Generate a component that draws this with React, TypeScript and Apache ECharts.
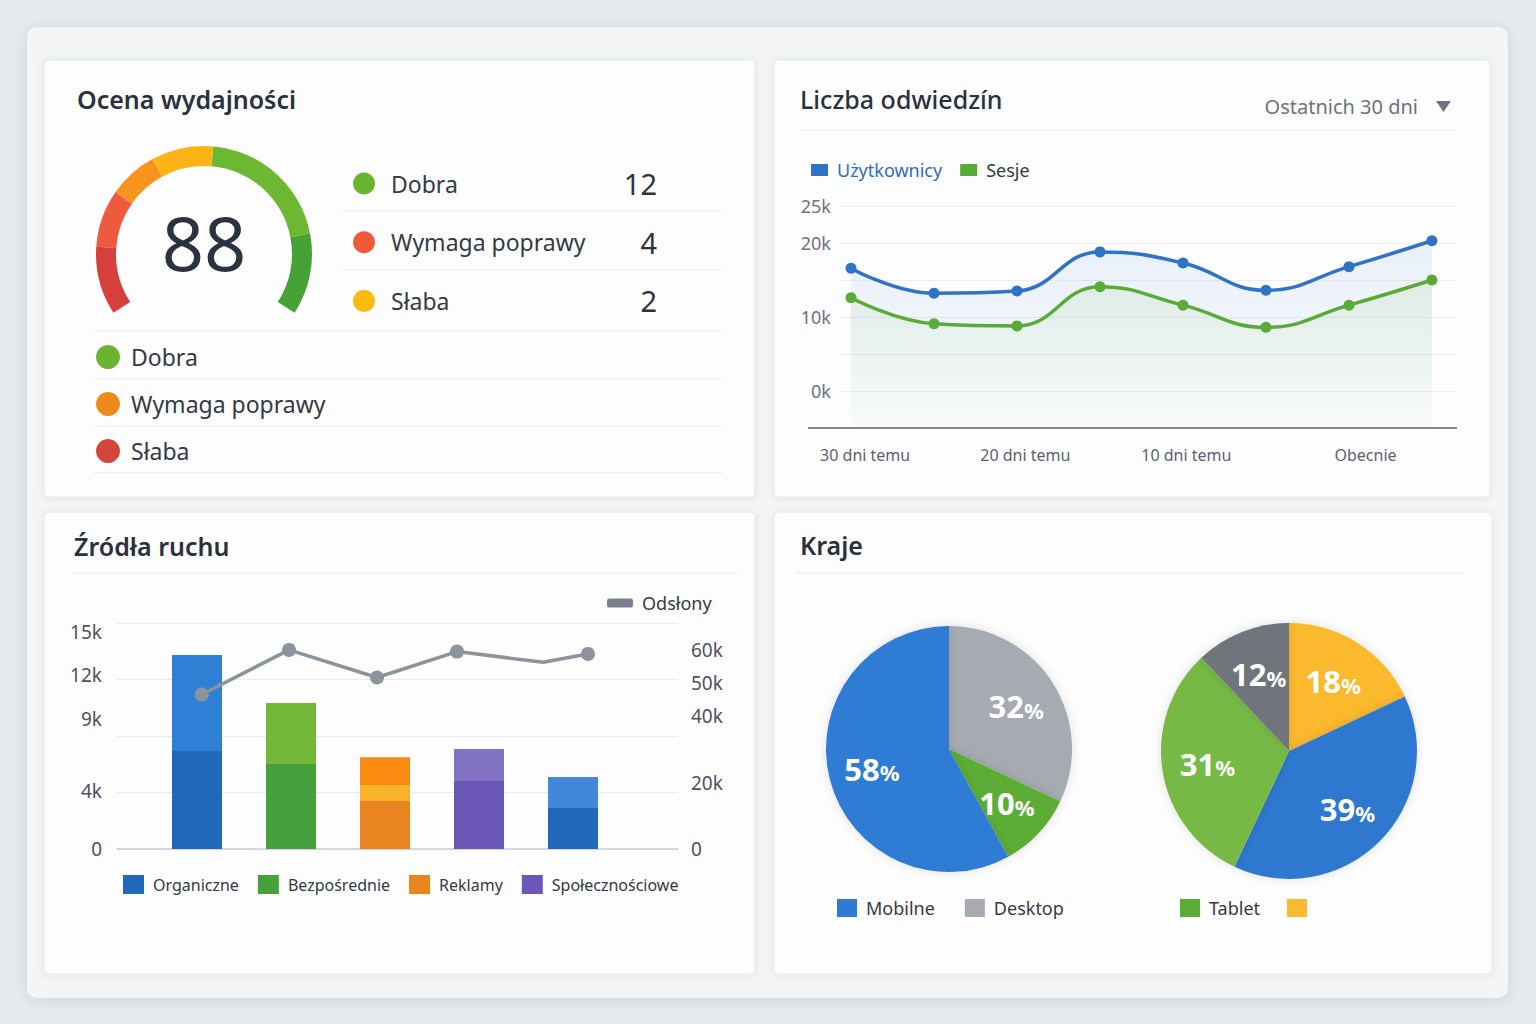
import React, { useEffect, useRef } from "react";
import * as echarts from "echarts";

const FONT = '"Noto Sans", "Open Sans", sans-serif';

// ---------- Card 1: Ocena wydajności ----------
const gaugeScore = 88;
const gaugeBandStops = [0.15, 0.276, 0.384, 0.52, 0.821, 1];
const gaugeBandColors = ["#d6403a", "#ed5a3e", "#f7941d", "#fbb316", "#6cb832", "#48a136"];
const ratingLabels = ["Dobra", "Wymaga poprawy", "Słaba"];
const ratingCounts = [12, 4, 2];
const ratingColors = ["#6ab42f", "#ee5a3c", "#fbbb12"];
const scaleLabels = ["Dobra", "Wymaga poprawy", "Słaba"];
const scaleColors = ["#6ab42f", "#ee8a1c", "#d2463b"];

// ---------- Card 2: Liczba odwiedzín ----------
const visitX = [0, 1, 2, 3, 4, 5, 6, 7];
const visitTickPositions = [0.17, 2.1, 4.04, 6.2];
const visitTickLabels = ["30 dni temu", "20 dni temu", "10 dni temu", "Obecnie"];
const users = [16600, 13200, 13500, 18800, 17300, 13600, 16800, 20300];
const sessions = [12600, 9100, 8800, 14100, 11600, 8600, 11600, 15000];
const visitYTicks = [0, 10000, 20000, 25000];

// ---------- Card 3: Źródła ruchu ----------
const sourceNames = ["Organiczne", "Bezpośrednie", "Reklamy", "Społecznościowe"];
const sourceColors = ["#2168ba", "#46a03b", "#e9851f", "#6a57b8"];
const barCategories = ["Organiczne", "Bezpośrednie", "Reklamy", "Społecznościowe", "Organiczne (mobile)"];
const barSource = [0, 1, 2, 3, 0];
const barBase = [6760, 5870, 3310, 4690, 2830];
const barMiddle = [null, null, 1100, null, null];
const barTop = [6630, 4210, 1930, 2210, 2140];
const barTopColors = ["#2e80d7", "#74b83a", "#fb8b10", "#8373c3", "#4287d8"];
const pageViewX = [1.05, 1.976, 2.91, 3.758, 4.671, 5.148];
const pageViews = [46500, 59900, 51600, 59400, 56200, 58700];
const pageViewMarker = [true, true, true, true, false, true];
const leftTicks = [0, 4000, 9000, 12000, 15000];
const rightTicks = [0, 20000, 40000, 50000, 60000];

// ---------- Card 4: Kraje ----------
const pie1Names = ["Desktop", "Tablet", "Mobilne"];
const pie1Values = [32, 10, 58];
const pie1Colors = ["#a6aab1", "#5cad36", "#2f7bd3"];
const pie2Names = ["Inne", "Mobilne", "Tablet", "Desktop"];
const pie2Values = [18, 39, 31, 12];
const pie2Colors = ["#fbb92f", "#2f78d0", "#76b944", "#6f747c"];

const kFmt = (v: number) => (v === 0 ? "0" : v / 1000 + "k");
const LEFT_MAX = 15600;

function buildOption() {
  const cards = [
    [44, 60, 711, 437],
    [774, 60, 716, 437],
    [44, 512, 711, 462],
    [774, 512, 718, 462],
  ];
  const graphics: any[] = [
    {
      type: "rect",
      z: -20,
      silent: true,
      shape: { x: 27, y: 27, width: 1481, height: 971, r: 10 },
      style: { fill: "#f4f5f7", shadowBlur: 14, shadowColor: "rgba(0,0,0,0.10)", shadowOffsetY: 2 },
    },
    ...cards.map((c) => ({
      type: "rect",
      z: -10,
      silent: true,
      shape: { x: c[0], y: c[1], width: c[2], height: c[3], r: 4 },
      style: { fill: "#fdfdfe", stroke: "#e6e8ec", lineWidth: 1, shadowBlur: 8, shadowColor: "rgba(0,0,0,0.07)", shadowOffsetY: 1 },
    })),
  ];
  const sep = (x1: number, x2: number, y: number, color = "#e6e8eb") => ({
    type: "line",
    z: 1,
    silent: true,
    shape: { x1, y1: y, x2, y2: y },
    style: { stroke: color, lineWidth: 1 },
  });
  ratingLabels.forEach((lab, i) => {
    const y = 183.5 + i * 58.7;
    graphics.push({ type: "circle", z: 5, shape: { cx: 364, cy: y, r: 11 }, style: { fill: ratingColors[i] } });
    graphics.push({
      type: "text", z: 5, x: 391, y,
      style: { text: lab, fill: "#333a44", fontSize: 23, fontFamily: FONT, align: "left", verticalAlign: "middle" },
    });
    graphics.push({
      type: "text", z: 5, x: 657, y,
      style: { text: String(ratingCounts[i]), fill: "#2b3240", fontSize: 29, fontFamily: FONT, align: "right", verticalAlign: "middle" },
    });
  });
  graphics.push(sep(342, 722, 211), sep(342, 722, 270), sep(94, 722, 331));
  scaleLabels.forEach((lab, i) => {
    const y = 357 + i * 47;
    graphics.push({ type: "circle", z: 5, shape: { cx: 108, cy: y, r: 12 }, style: { fill: scaleColors[i] } });
    graphics.push({
      type: "text", z: 5, x: 131, y,
      style: { text: lab, fill: "#333a44", fontSize: 23, fontFamily: FONT, align: "left", verticalAlign: "middle" },
    });
    graphics.push(sep(94, 722, y + 22));
  });
  graphics.push({
    type: "text", z: 5, x: 1418, y: 106,
    style: { text: "Ostatnich 30 dni", fill: "#6b7280", fontSize: 20, fontFamily: FONT, align: "right", verticalAlign: "middle" },
  });
  graphics.push({
    type: "polygon", z: 5,
    shape: { points: [[1436, 101], [1451, 101], [1443.5, 112]] },
    style: { fill: "#6b7280" },
  });
  graphics.push(sep(800, 1455, 130, "#e8eaed"));
  graphics.push({
    type: "line", z: 3, silent: true,
    shape: { x1: 808, y1: 428, x2: 1457, y2: 428 },
    style: { stroke: "#5b6068", lineWidth: 1.5 },
  });
  graphics.push(sep(72, 738, 573, "#e8eaed"));
  graphics.push(sep(796, 1462, 573, "#e8eaed"));

  const titleStyle = { fontSize: 25, fontWeight: 600, color: "#2a313c", fontFamily: FONT };
  const legendText = { fontSize: 18, color: "#333a44", fontFamily: FONT, padding: [0, 0, 0, 4] };

  const pieLabel = {
    show: true,
    position: "inside",
    formatter: (p: any) => `{v|${p.value}}{p|%}`,
    rich: {
      v: { fontSize: 31, fontWeight: "bold", color: "#ffffff", fontFamily: FONT },
      p: { fontSize: 22, fontWeight: "bold", color: "#ffffff", fontFamily: FONT, padding: [7, 0, 0, 0] },
    },
  };
  const pieSeries = (name: string, center: number[], r: number, names: string[], values: number[], colors: string[]) => ({
    name, type: "pie", center, radius: r, startAngle: 90, clockwise: true,
    data: names.map((n, i) => ({ name: n, value: values[i], itemStyle: { color: colors[i] } })),
    label: { show: false }, labelLine: { show: false },
    itemStyle: { shadowBlur: 10, shadowColor: "rgba(0,0,0,0.12)" },
  });
  const pieLabelSeries = (name: string, center: number[], r: number, names: string[], values: number[]) => ({
    name, type: "pie", center, radius: [Math.round(r * 0.24), r], startAngle: 90, clockwise: true, silent: true,
    z: 4,
    data: names.map((n, i) => ({ name: n, value: values[i] })),
    itemStyle: { color: "rgba(0,0,0,0)", borderWidth: 0 },
    label: pieLabel, labelLine: { show: false },
  });

  return {
    animation: false,
    backgroundColor: "#e6e9ed",
    textStyle: { fontFamily: FONT },
    title: [
      { text: "Ocena wydajności", left: 77, top: 86, padding: 0, textStyle: titleStyle },
      { text: "Liczba odwiedzín", left: 800, top: 86, padding: 0, textStyle: { ...titleStyle, fontWeight: 500 } },
      { text: "Źródła ruchu", left: 74, top: 533, padding: 0, textStyle: titleStyle },
      { text: "Kraje", left: 800, top: 532, padding: 0, textStyle: titleStyle },
    ],
    legend: [
      {
        data: [{ name: "Użytkownicy", textStyle: { color: "#2d6cc0" } }, { name: "Sesje" }],
        left: 806, top: 156, icon: "rect", itemWidth: 17, itemHeight: 12, itemGap: 18,
        textStyle: legendText,
      },
      {
        data: ["Odsłony"], left: 602, top: 589, icon: "roundRect", itemWidth: 26, itemHeight: 9,
        itemStyle: { color: "#7b818a" }, textStyle: legendText,
      },
      {
        data: sourceNames, left: 118, top: 870, icon: "rect", itemWidth: 21, itemHeight: 19, itemGap: 19,
        textStyle: { ...legendText, fontSize: 16 },
      },
      {
        data: ["Mobilne", "Desktop"], left: 832, top: 894, icon: "rect", itemWidth: 20, itemHeight: 18, itemGap: 30,
        textStyle: legendText,
      },
      {
        data: ["Tablet", "Inne"], left: 1175, top: 894, icon: "rect", itemWidth: 20, itemHeight: 18, itemGap: 27,
        textStyle: legendText,
        formatter: (n: string) => (n === "Inne" ? "" : n),
      },
    ],
    grid: [
      { left: 839, top: 206, width: 617, height: 222 },
      { left: 117, top: 623, width: 561, height: 226 },
      { left: 150, top: 623, width: 470, height: 226 },
    ],
    xAxis: [
      {
        gridIndex: 0, type: "value", min: -0.145, max: 7.29,
        axisLine: { show: false }, axisTick: { show: false }, splitLine: { show: false },
        axisLabel: {
          customValues: visitTickPositions,
          formatter: (v: number) => {
            const i = visitTickPositions.findIndex((p) => Math.abs(p - v) < 1e-6);
            return i >= 0 ? visitTickLabels[i] : "";
          },
          margin: 19, color: "#5a6270", fontSize: 16, fontFamily: FONT,
        },
      },
      {
        gridIndex: 1, type: "value", min: 0.151, max: 6.103,
        axisLine: { show: true, lineStyle: { color: "#c8ccd3", width: 1.5 } },
        axisTick: { show: false }, splitLine: { show: false }, axisLabel: { show: false },
      },
      {
        gridIndex: 2, type: "category", data: barCategories,
        axisLine: { show: false }, axisTick: { show: false }, splitLine: { show: false }, axisLabel: { show: false },
      },
    ],
    yAxis: [
      {
        gridIndex: 0, type: "value", min: -5000, max: 25000, interval: 5000,
        axisLine: { show: false }, axisTick: { show: false },
        splitLine: { lineStyle: { color: "#eceef1" } },
        axisLabel: { customValues: visitYTicks, formatter: (v: number) => v / 1000 + "k", margin: 8, color: "#6b7280", fontSize: 18, fontFamily: FONT },
      },
      {
        gridIndex: 1, type: "value", min: 0, max: LEFT_MAX, interval: 3900,
        axisLine: { show: false }, axisTick: { show: false },
        splitLine: { lineStyle: { color: "#e9ebee" } },
        axisLabel: { customValues: leftTicks, formatter: kFmt, margin: 15, color: "#4b5260", fontSize: 19, fontFamily: FONT },
      },
      {
        gridIndex: 1, type: "value", position: "right", min: 0, max: 68000, interval: 17000,
        axisLine: { show: false }, axisTick: { show: false }, splitLine: { show: false },
        axisLabel: { customValues: rightTicks, formatter: kFmt, margin: 13, color: "#4b5260", fontSize: 19, fontFamily: FONT },
      },
      {
        gridIndex: 2, type: "value", min: 0, max: LEFT_MAX, show: false,
      },
    ],
    series: [
      {
        type: "gauge", center: [204, 254], radius: 108, startAngle: 213, endAngle: -33, min: 0, max: 100,
        axisLine: { lineStyle: { width: 20, color: gaugeBandStops.map((s, i) => [s, gaugeBandColors[i]]) } },
        pointer: { show: false }, axisTick: { show: false }, splitLine: { show: false },
        axisLabel: { show: false }, anchor: { show: false }, title: { show: false }, progress: { show: false },
        detail: { offsetCenter: [0, -12], fontSize: 74, color: "#2b3240", fontFamily: FONT, fontWeight: "normal", formatter: "{value}" },
        data: [{ value: gaugeScore, name: "Wynik" }],
      },
      {
        name: "Użytkownicy", type: "line", xAxisIndex: 0, yAxisIndex: 0, smooth: 0.45,
        data: users.map((v, i) => [visitX[i], v]),
        symbol: "circle", symbolSize: 11,
        lineStyle: { width: 3.5, color: "#2f72c8" }, itemStyle: { color: "#2f72c8" },
        areaStyle: {
          origin: "start",
          color: new echarts.graphic.LinearGradient(0, 0, 0, 1, [
            { offset: 0, color: "rgba(52,120,210,0.14)" },
            { offset: 1, color: "rgba(52,120,210,0.02)" },
          ]),
        },
      },
      {
        name: "Sesje", type: "line", xAxisIndex: 0, yAxisIndex: 0, smooth: 0.45,
        data: sessions.map((v, i) => [visitX[i], v]),
        symbol: "circle", symbolSize: 11,
        lineStyle: { width: 3.5, color: "#5aab35" }, itemStyle: { color: "#5aab35" },
        areaStyle: {
          origin: "start",
          color: new echarts.graphic.LinearGradient(0, 0, 0, 1, [
            { offset: 0, color: "rgba(110,185,75,0.16)" },
            { offset: 1, color: "rgba(110,185,75,0.01)" },
          ]),
        },
      },
      ...sourceNames.map((name, s) => ({
        name, type: "bar", stack: "src", xAxisIndex: 2, yAxisIndex: 3, barWidth: 50,
        itemStyle: { color: sourceColors[s] },
        data: barBase.map((v, i) => (barSource[i] === s ? v : "-")),
      })),
      {
        name: "Reklamy – kampanie", type: "bar", stack: "src", xAxisIndex: 2, yAxisIndex: 3, barWidth: 50,
        itemStyle: { color: "#f9b32b" },
        data: barMiddle.map((v) => (v == null ? "-" : v)),
      },
      {
        name: "Nowe wizyty", type: "bar", stack: "src", xAxisIndex: 2, yAxisIndex: 3, barWidth: 50,
        data: barTop.map((v, i) => ({ value: v, itemStyle: { color: barTopColors[i] } })),
      },
      {
        name: "Odsłony", type: "line", xAxisIndex: 1, yAxisIndex: 2, z: 5,
        data: pageViewX.map((x, i) => ({ value: [x, pageViews[i]], symbol: pageViewMarker[i] ? "circle" : "none" })),
        symbolSize: 14, lineStyle: { color: "#8d939c", width: 3.5 }, itemStyle: { color: "#8d939c" },
      },
      pieSeries("Urządzenia A", [949, 749], 123, pie1Names, pie1Values, pie1Colors),
      pieSeries("Urządzenia B", [1289, 751], 128, pie2Names, pie2Values, pie2Colors),
      pieLabelSeries("Etykiety A", [949, 749], 123, pie1Names, pie1Values),
      pieLabelSeries("Etykiety B", [1289, 751], 128, pie2Names, pie2Values),
    ],
    graphic: { elements: graphics },
  };
}

export default function App() {
  const ref = useRef<HTMLDivElement>(null);
  useEffect(() => {
    if (!ref.current) return;
    const chart = echarts.init(ref.current, null, { renderer: "svg", width: 1536, height: 1024 });
    chart.setOption(buildOption() as any);
    return () => chart.dispose();
  }, []);
  return (
    <div
      ref={ref}
      style={{ position: "fixed", left: 0, top: 0, width: 1536, height: 1024 }}
    />
  );
}
